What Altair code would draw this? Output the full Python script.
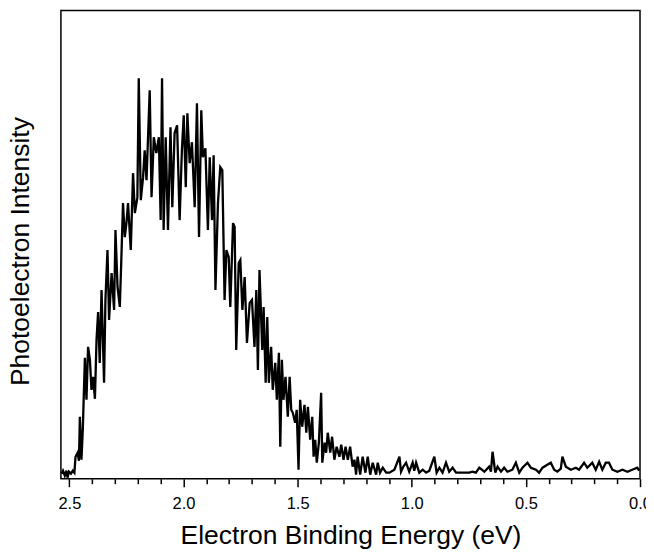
import altair as alt
import pandas as pd

# binding energy (eV) and photoelectron counts (arb. units)
energy_ev = [
    2.534, 2.528, 2.520, 2.513, 2.508, 2.502, 2.493, 2.485, 2.478, 2.473,
    2.464, 2.458, 2.454, 2.447, 2.441, 2.432, 2.425, 2.418, 2.410, 2.403,
    2.396, 2.388, 2.381, 2.374, 2.367, 2.359, 2.348, 2.342, 2.333, 2.326,
    2.315, 2.304, 2.298, 2.289, 2.279, 2.272, 2.265, 2.257, 2.250, 2.243,
    2.231, 2.221, 2.213, 2.202, 2.196, 2.187, 2.177, 2.170, 2.162, 2.148,
    2.140, 2.130, 2.119, 2.108, 2.100, 2.094, 2.087,
    2.078, 2.068, 2.057, 2.049, 2.039, 2.028, 2.017, 2.007, 1.999, 1.990,
    1.983, 1.973, 1.963, 1.951, 1.941, 1.932, 1.922, 1.915, 1.904, 1.893,
    1.885, 1.875, 1.868, 1.860, 1.849, 1.839, 1.830, 1.820, 1.812, 1.802,
    1.795, 1.783, 1.776, 1.769, 1.758, 1.751, 1.742, 1.732, 1.722, 1.710,
    1.700, 1.689, 1.681, 1.674, 1.667, 1.655, 1.649, 1.640, 1.633, 1.626,
    1.616, 1.609, 1.598, 1.591, 1.582, 1.576, 1.569, 1.562, 1.553, 1.543,
    1.535, 1.528, 1.521, 1.511, 1.504, 1.496, 1.489, 1.480, 1.470, 1.462,
    1.455, 1.445, 1.436, 1.430, 1.423, 1.416, 1.407, 1.397, 1.392, 1.382,
    1.375, 1.368, 1.357, 1.349, 1.339, 1.329, 1.317, 1.309, 1.299, 1.290,
    1.280, 1.270, 1.259, 1.251, 1.244, 1.237, 1.226, 1.215, 1.203, 1.193,
    1.182, 1.171, 1.156, 1.149, 1.139, 1.127, 1.112,
    1.098, 1.076, 1.054, 1.047, 1.037, 1.025, 1.011, 0.996, 0.989, 0.981,
    0.967, 0.952, 0.937, 0.923, 0.901, 0.891, 0.879, 0.865, 0.850, 0.836,
    0.821, 0.806, 0.777, 0.748, 0.734, 0.719, 0.704, 0.682, 0.661, 0.653,
    0.646, 0.634, 0.624, 0.609, 0.595, 0.581, 0.559, 0.544, 0.529, 0.515,
    0.493, 0.478, 0.456, 0.442, 0.427, 0.406, 0.391, 0.376, 0.362, 0.347,
    0.340, 0.325, 0.303, 0.281, 0.267, 0.245, 0.231, 0.209, 0.194, 0.179,
    0.165, 0.150, 0.136, 0.121, 0.099, 0.077, 0.055, 0.034, 0.012, 0.004,
]
intensity = [
    5, 8, 3, 8, 1, 7, 5, 8, 6, 22,
    26, 18, 62, 19, 50, 121, 79, 132, 119, 89,
    102, 80, 139, 167, 116, 189, 96, 179, 229, 159,
    206, 169, 249, 192, 172, 222, 276, 242, 256, 276,
    229, 306, 266, 282, 401, 279, 302, 329, 299, 389,
    282, 342, 326, 342, 259, 401, 249,
    342, 249, 352, 272, 346, 354, 259, 329, 364, 292,
    366, 316, 337, 272, 376, 242, 369, 322, 331, 249,
    322, 259, 324, 189, 276, 312, 309, 179, 229, 222,
    172, 256, 252, 129, 216, 219, 169, 202, 136, 176,
    179, 132, 189, 109, 209, 129, 172, 96, 162, 96,
    132, 89, 116, 79, 126, 32, 119, 79, 102, 62,
    102, 69, 66, 56, 69, 9, 79, 52, 74, 46,
    72, 39, 62, 22, 39, 16, 36, 86, 16, 36,
    26, 46, 26, 42, 19, 32, 22, 34, 19, 32,
    19, 32, 12, 19, 4, 22, 4, 22, 6, 22,
    4, 16, 4, 16, 6, 11, 6,
    6, 9, 22, 7, 12, 16, 7, 16, 8, 16,
    6, 9, 6, 8, 22, 6, 11, 6, 16, 7,
    11, 6, 6, 6, 7, 6, 11, 7, 12, 7,
    27, 6, 12, 7, 11, 7, 9, 16, 6, 11,
    16, 11, 9, 6, 11, 14, 16, 9, 7, 10,
    22, 12, 9, 11, 9, 16, 11, 16, 9, 17,
    9, 16, 16, 9, 7, 9, 7, 9, 11, 8,
]

tick_values = [2.5, 2.4, 2.3, 2.2, 2.1, 2.0, 1.9, 1.8, 1.7, 1.6, 1.5, 1.4, 1.3,
               1.2, 1.1, 1.0, 0.9, 0.8, 0.7, 0.6, 0.5, 0.4, 0.3, 0.2, 0.1, 0.0]

df = pd.DataFrame({"energy": energy_ev, "counts": intensity})

major = "datum.value % 0.5 === 0"

x_axis = alt.Axis(
    values=tick_values,
    title="Electron Binding Energy (eV)",
    titleFontSize=26.5,
    titleFontWeight="normal",
    titleFont="Liberation Sans",
    titleColor="black",
    titleBaseline="alphabetic",
    titleY=65,
    labelFont="Liberation Sans",
    labelFontSize=16.5,
    labelColor="black",
    labelExpr=f"{major} ? format(datum.value, '.1f') : ''",
    labelOverlap=False,
    labelFlush=False,
    labelPadding=9,
    tickColor="black",
    tickWidth=1.5,
    tickSize={"condition": {"test": major, "value": 8}, "value": 5},
    domain=False,
    grid=False,
)

y_axis = alt.Axis(
    title="Photoelectron Intensity",
    titleFontSize=26.5,
    titleFontWeight="normal",
    titleFont="Liberation Sans",
    titleColor="black",
    titleAngle=-90,
    titleBaseline="alphabetic",
    titleX=-32,
    titleY=241,
    labels=False,
    ticks=False,
    domain=False,
    grid=False,
)

chart = (
    alt.Chart(df)
    .mark_line(color="black", strokeWidth=2.3, strokeJoin="miter")
    .encode(
        x=alt.X("energy:Q", scale=alt.Scale(domain=[2.537, 0.0], nice=False, zero=False), axis=x_axis),
        y=alt.Y("counts:Q", scale=alt.Scale(domain=[0, 469], nice=False), axis=y_axis),
        order="energy:Q",
    )
    .properties(
        width=580,
        height=469,
        autosize=alt.AutoSizeParams(type="none"),
        padding={"left": 53, "top": 2, "right": 6, "bottom": 70},
    )
    .configure(background="white")
    .configure_view(stroke="black", strokeWidth=1.5)
)

chart.save("out.html", embed_options={"renderer": "svg", "actions": False})
